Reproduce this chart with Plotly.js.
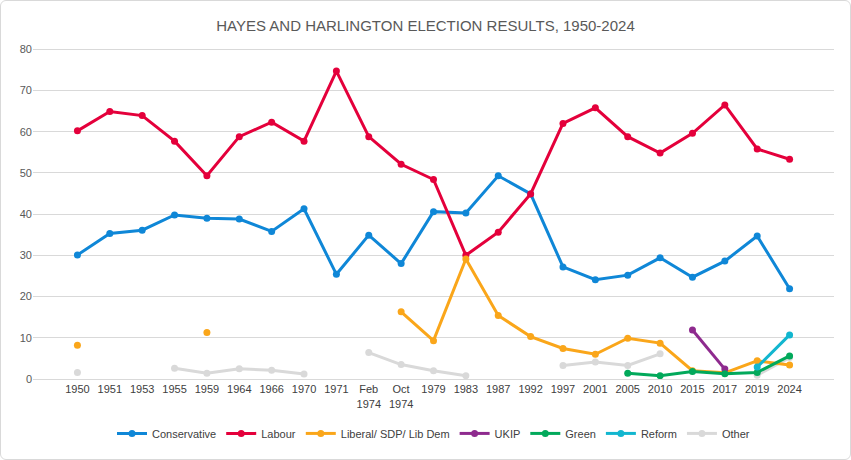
<!DOCTYPE html>
<html><head><meta charset="utf-8">
<script src="https://cdn.plot.ly/plotly-3.0.1.min.js"></script>
<style>body{margin:0;background:#fff}#chart{width:851px;height:460px;outline:1px solid #d9d9d9;outline-offset:-1px;border-radius:6px;overflow:hidden}</style>
</head><body><div id="chart"></div>
<script>
var years = ['1950','1951','1953','1955','1959','1964','1966','1970','1971','Feb<br>1974','Oct<br>1974','1979','1983','1987','1992','1997','2001','2005','2010','2015','2017','2019','2024'];
var conservative = [30.1,35.3,36.1,39.8,39.0,38.8,35.8,41.3,25.4,34.9,28.0,40.6,40.3,49.3,44.9,27.2,24.1,25.2,29.4,24.7,28.6,34.7,21.9];
var labour = [60.2,64.9,63.9,57.7,49.3,58.8,62.3,57.7,74.7,58.8,52.1,48.4,30.0,35.6,44.9,62.0,65.8,58.8,54.8,59.6,66.5,55.8,53.3];
var libdem = [8.2,null,null,null,11.3,null,null,null,null,null,16.3,9.3,29.1,15.4,10.3,7.4,6.0,9.9,8.7,2.0,1.5,4.4,3.4];
var ukip = [null,null,null,null,null,null,null,null,null,null,null,null,null,null,null,null,null,null,null,11.9,2.4,null,null];
var green = [null,null,null,null,null,null,null,null,null,null,null,null,null,null,null,null,null,1.4,0.8,1.8,1.3,1.6,5.6];
var reform = [null,null,null,null,null,null,null,null,null,null,null,null,null,null,null,null,null,null,null,null,null,2.9,10.7];
var other = [1.6,null,null,2.6,1.4,2.5,2.1,1.2,null,6.4,3.5,2.0,0.8,null,null,3.3,4.1,3.3,6.1,null,null,0.9,5.2];

var series = [
  ['Other', other, '#D9D9D9'],
  ['Conservative', conservative, '#0F87D7'],
  ['Labour', labour, '#E4003B'],
  ['Liberal/ SDP/ Lib Dem', libdem, '#FAA61A'],
  ['UKIP', ukip, '#8E2A8E'],
  ['Green', green, '#02A95B'],
  ['Reform', reform, '#12B6CF']
];
var order = ['Conservative','Labour','Liberal/ SDP/ Lib Dem','UKIP','Green','Reform','Other'];
var data = series.map(function (s) {
  return {
    x: years, y: s[1], name: s[0], type: 'scatter', mode: 'lines+markers',
    line: {color: s[2], width: 3}, marker: {color: s[2], size: 7},
    legendrank: order.indexOf(s[0]) + 1
  };
});

var layout = {
  width: 851, height: 460,
  margin: {l: 33, r: 17, t: 41, b: 77},
  paper_bgcolor: 'rgba(0,0,0,0)', plot_bgcolor: 'rgba(0,0,0,0)',
  font: {family: 'Liberation Sans, Arial', size: 11, color: '#404040'},
  title: {text: 'HAYES AND HARLINGTON ELECTION RESULTS, 1950-2024', x: 0.5, y: 0.955,
    font: {size: 15, color: '#595959'}},
  xaxis: {type: 'category', showgrid: false, showline: true, linecolor: '#d9d9d9',
    ticks: '', tickfont: {size: 11}},
  yaxis: {range: [0, 82], dtick: 10, gridcolor: '#d9d9d9', zeroline: false,
    ticks: '', tickfont: {size: 11, color: '#595959'}},
  showlegend: true,
  legend: {orientation: 'h', x: 0.5, xanchor: 'center', y: -0.161, yanchor: 'middle',
    traceorder: 'normal', font: {size: 11}}
};
Plotly.newPlot('chart', data, layout, {displayModeBar: false});
</script></body></html>
